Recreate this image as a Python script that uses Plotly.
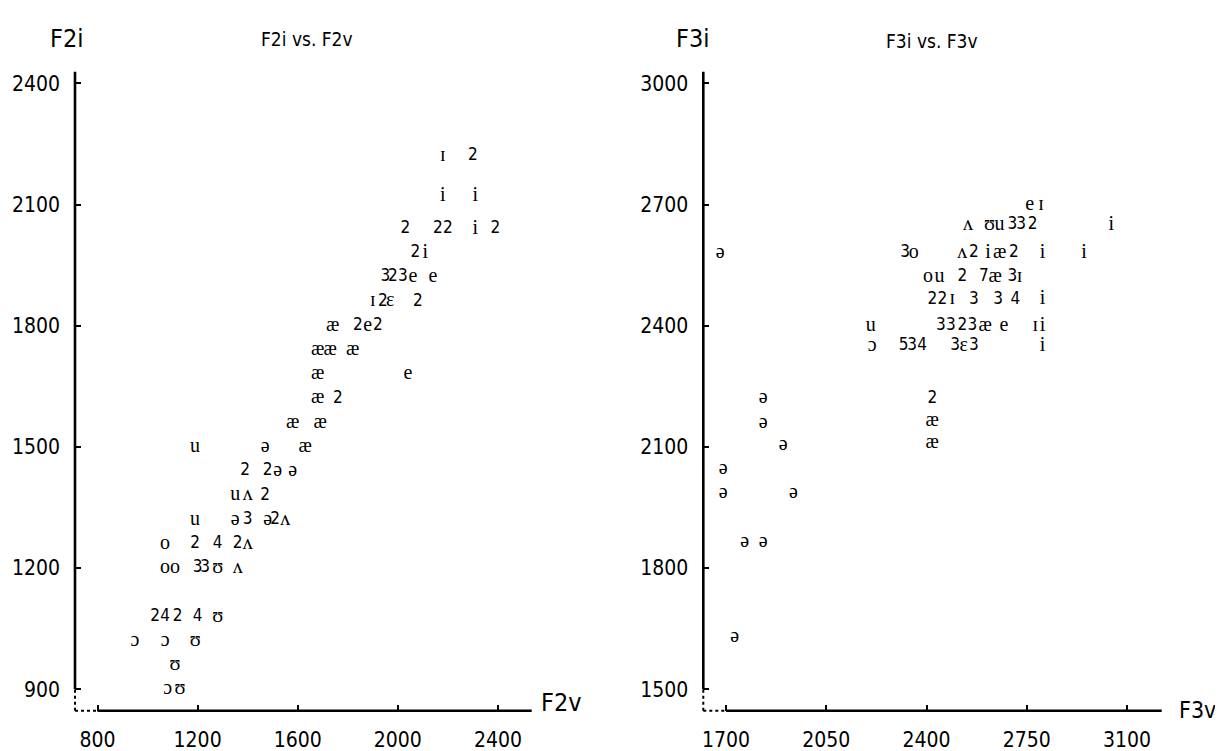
import plotly.graph_objects as go

SANS = "DejaVu Sans Condensed, Liberation Sans, sans-serif"
SERIF = "Liberation Serif, DejaVu Serif, serif"

# ---------------- data: left panel (F2i vs F2v) ----------------
f2_labels = ["ɪ", "2",
             "i", "i",
             "2", "2", "2", "i", "2",
             "2", "i",
             "3", "2", "3", "e", "e",
             "ɪ", "2", "ɛ", "2",
             "æ", "2", "e", "2",
             "æ", "æ", "æ",
             "æ", "e",
             "æ", "2",
             "æ", "æ",
             "u", "ə", "æ",
             "2", "2", "ə", "ə",
             "u", "ʌ", "2",
             "u", "ə", "3", "ə", "2", "ʌ",
             "o", "2", "4", "2", "ʌ",
             "o", "o", "3", "3", "ʊ", "ʌ",
             "2", "4", "2", "4", "ʊ",
             "ɔ", "ɔ", "ʊ",
             "ʊ",
             "ɔ", "ʊ"]
f2v = [2180, 2300,
       2180, 2310,
       2030, 2160, 2200, 2310, 2390,
       2070, 2110,
       1950, 1980, 2020, 2060, 2140,
       1900, 1940, 1970, 2080,
       1740, 1840, 1880, 1920,
       1680, 1730, 1820,
       1680, 2040,
       1680, 1760,
       1580, 1690,
       1190, 1470, 1630,
       1390, 1480, 1520, 1580,
       1350, 1400, 1470,
       1190, 1350, 1400, 1480, 1510, 1550,
       1070, 1190, 1280, 1360, 1400,
       1070, 1110, 1200, 1230, 1280, 1360,
       1030, 1070, 1120, 1200, 1280,
       950, 1070, 1190,
       1110,
       1080, 1130]
f2i = [2220, 2220,
       2120, 2120,
       2040, 2040, 2040, 2040, 2040,
       1980, 1980,
       1920, 1920, 1920, 1920, 1920,
       1860, 1860, 1860, 1860,
       1800, 1800, 1800, 1800,
       1740, 1740, 1740,
       1680, 1680,
       1620, 1620,
       1560, 1560,
       1500, 1500, 1500,
       1440, 1440, 1440, 1440,
       1380, 1380, 1380,
       1320, 1320, 1320, 1320, 1320, 1320,
       1260, 1260, 1260, 1260, 1260,
       1200, 1200, 1200, 1200, 1200, 1200,
       1080, 1080, 1080, 1080, 1080,
       1020, 1020, 1020,
       960,
       900, 900]

# ---------------- data: right panel (F3i vs F3v) ----------------
f3_labels = ["e", "ɪ",
             "ʌ", "ʊ", "u", "3", "3", "2", "i",
             "ə", "3", "o", "ʌ", "2", "i", "æ", "2", "i", "i",
             "o", "u", "2", "7", "æ", "3", "ɪ",
             "2", "2", "ɪ", "3", "3", "4", "i",
             "u", "3", "3", "2", "3", "æ", "e", "ɪ", "i",
             "ɔ", "5", "3", "4", "3", "ɛ", "3", "i",
             "2", "æ", "æ",
             "ə", "ə", "ə", "ə", "ə", "ə", "ə", "ə", "ə"]
f3v = [2760, 2800,
       2545, 2620, 2655, 2700, 2730, 2770, 3045,
       1680, 2325, 2355, 2525, 2565, 2615, 2655, 2705, 2805, 2950,
       2405, 2445, 2525, 2600, 2640, 2700, 2725,
       2420, 2455, 2490, 2565, 2650, 2710, 2805,
       2205, 2450, 2485, 2525, 2560, 2605, 2670, 2780, 2805,
       2210, 2320, 2350, 2385, 2500, 2530, 2565, 2805,
       2420, 2420, 2420,
       1830, 1830, 1900, 1690, 1690, 1935, 1765, 1830, 1730]
f3i = [2700, 2700,
       2650, 2650, 2650, 2650, 2650, 2650, 2650,
       2580, 2580, 2580, 2580, 2580, 2580, 2580, 2580, 2580, 2580,
       2520, 2520, 2520, 2520, 2520, 2520, 2520,
       2465, 2465, 2465, 2465, 2465, 2465, 2465,
       2400, 2400, 2400, 2400, 2400, 2400, 2400, 2400, 2400,
       2350, 2350, 2350, 2350, 2350, 2350, 2350, 2350,
       2220, 2165, 2110,
       2220, 2160, 2105, 2045, 1985, 1985, 1865, 1865, 1630]

f2v_ticks = [800, 1200, 1600, 2000, 2400]
f2i_ticks = [900, 1200, 1500, 1800, 2100, 2400]
f3v_ticks = [1700, 2050, 2400, 2750, 3100]
f3i_ticks = [1500, 1800, 2100, 2400, 2700, 3000]

# ---------------- layout geometry ----------------
OFF = 8  # page body margin of the exported html
W, H = 1223 - OFF, 751 - OFF


def fx(px):
    return (px - OFF) / W


def fy(py):
    return 1 - (py - OFF) / H


X1_DOM = [fx(75), fx(531.7)]
X2_DOM = [fx(703.3), fx(1161.7)]
Y_DOM = [fy(710.7), fy(71.7)]
X1_RNG = [710, 2535]
Y1_RNG = [846.9, 2428.8]
X2_RNG = [1620.7, 3221]
Y2_RNG = [1446.9, 3028.8]


def to_paper(v, rng, dom):
    return dom[0] + (v - rng[0]) / (rng[1] - rng[0]) * (dom[1] - dom[0])


def fonts_for(labels):
    fam = [SANS if s.isdigit() else SERIF for s in labels]
    size = [17 if s.isdigit() else 20 for s in labels]
    return dict(family=fam, size=size, color="black")


fig = go.Figure()
fig.add_trace(go.Scatter(x=f2v, y=f2i, text=f2_labels, mode="text",
                         textposition="middle center",
                         textfont=fonts_for(f2_labels),
                         xaxis="x", yaxis="y", hoverinfo="skip"))
fig.add_trace(go.Scatter(x=f3v, y=f3i, text=f3_labels, mode="text",
                         textposition="middle center",
                         textfont=fonts_for(f3_labels),
                         xaxis="x2", yaxis="y2", hoverinfo="skip"))

axis_common = dict(showgrid=False, zeroline=False, showline=False,
                   ticks="inside", ticklen=6, tickwidth=2, tickcolor="black",
                   tickfont=dict(family=SANS, size=21, color="black"),
                   automargin=False, fixedrange=True, ticklabelstandoff=14)

fig.update_layout(
    width=W, height=H,
    margin=dict(l=0, r=0, t=0, b=0),
    paper_bgcolor="white", plot_bgcolor="white",
    showlegend=False,
    xaxis=dict(domain=X1_DOM, range=X1_RNG, tickvals=f2v_ticks, anchor="y", **axis_common),
    yaxis=dict(domain=Y_DOM, range=Y1_RNG, tickvals=f2i_ticks, anchor="x", **axis_common),
    xaxis2=dict(domain=X2_DOM, range=X2_RNG, tickvals=f3v_ticks, anchor="y2", **axis_common),
    yaxis2=dict(domain=Y_DOM, range=Y2_RNG, tickvals=f3i_ticks, anchor="x2", **axis_common),
)

shapes = []
for xr, yr, xd, xt, yt in [(X1_RNG, Y1_RNG, X1_DOM, f2v_ticks, f2i_ticks),
                           (X2_RNG, Y2_RNG, X2_DOM, f3v_ticks, f3i_ticks)]:
    xa = xd[0]
    ya = Y_DOM[0]
    xfirst = to_paper(xt[0], xr, xd)
    yfirst = to_paper(yt[0], yr, Y_DOM)
    line_solid = dict(color="black", width=2.6)
    line_dot = dict(color="black", width=2, dash="dot")
    shapes += [
        dict(type="line", xref="paper", yref="paper", x0=xfirst, x1=xd[1], y0=ya, y1=ya, line=line_solid),
        dict(type="line", xref="paper", yref="paper", x0=xa, x1=xfirst, y0=ya, y1=ya, line=line_dot),
        dict(type="line", xref="paper", yref="paper", x0=xa, x1=xa, y0=yfirst, y1=Y_DOM[1], line=line_solid),
        dict(type="line", xref="paper", yref="paper", x0=xa, x1=xa, y0=ya, y1=yfirst, line=line_dot),
    ]
fig.update_layout(shapes=shapes)

ann = []


def add_text(txt, px, py, size):
    ann.append(dict(text=txt, x=fx(px), y=fy(py), xref="paper", yref="paper",
                    showarrow=False, xanchor="center", yanchor="middle",
                    font=dict(family=SANS, size=size, color="black")))


add_text("F2i", 67, 38, 25)
add_text("F2i vs. F2v", 307, 39, 19)
add_text("F2v", 561, 702, 25)
add_text("F3i", 693, 38, 25)
add_text("F3i vs. F3v", 932, 41, 19)
add_text("F3v", 1197, 710, 23)
fig.update_layout(annotations=ann)

fig.write_html("out.html")
